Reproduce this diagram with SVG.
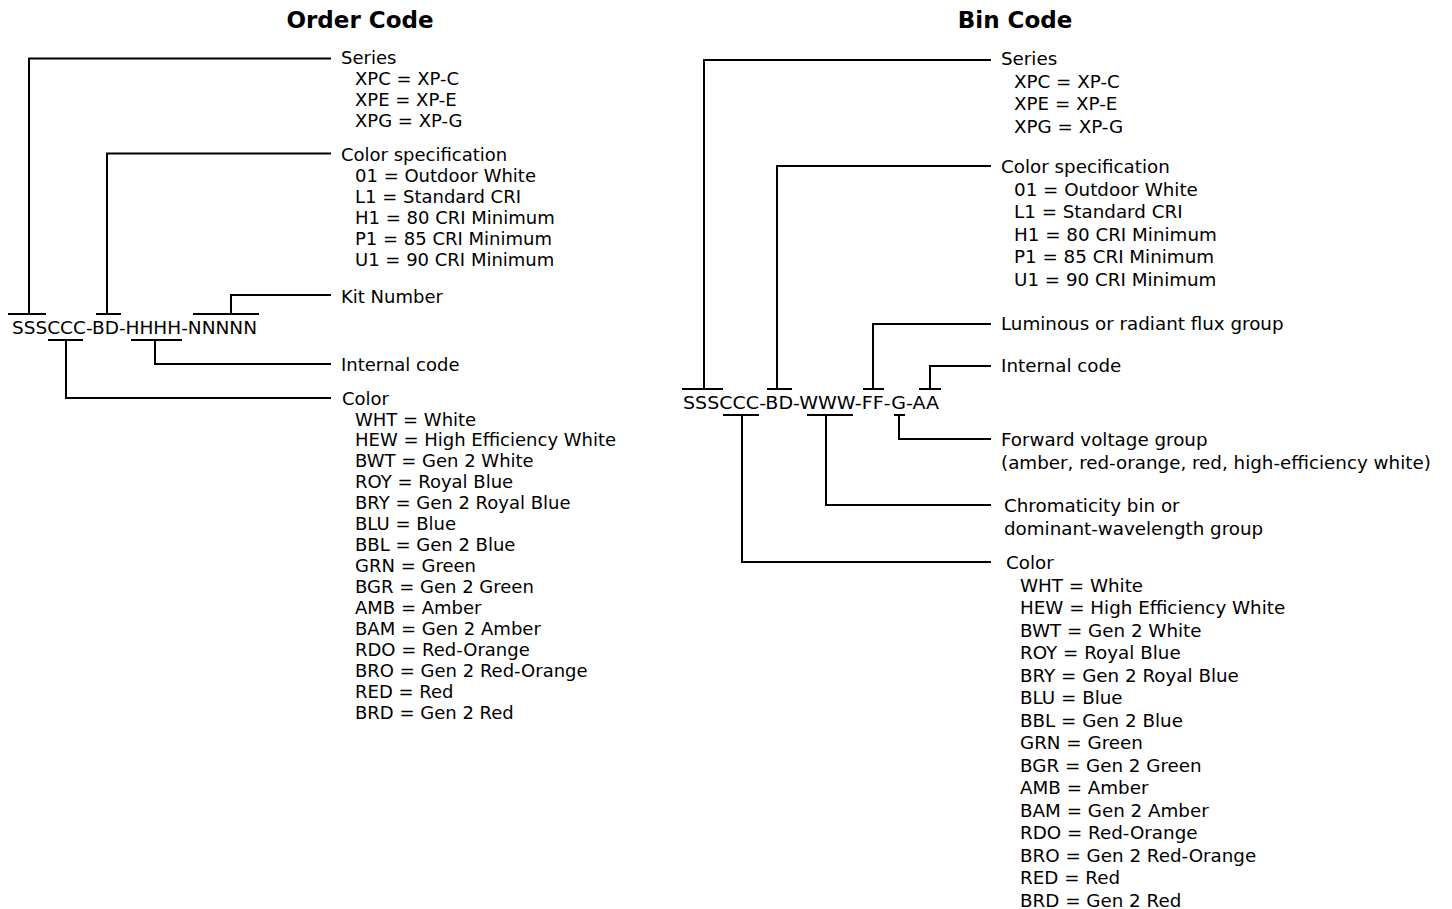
<svg xmlns="http://www.w3.org/2000/svg" width="1452" height="909" viewBox="0 0 1452 909">
<style>
text{font-family:"DejaVu Sans","Verdana",sans-serif;font-size:18px;fill:#000}
.r text{font-size:18.3px}
.title{font-weight:bold;font-size:23px;text-anchor:middle}
.ln{fill:none;stroke:#000;stroke-width:2}
</style>
<rect width="1452" height="909" fill="#fff"/>
<g id="order-title"><text class="title" x="360" y="28">Order Code</text></g>
<g id="bin-title"><text class="title" x="1015" y="28">Bin Code</text></g>

<g id="order-code"><text x="12" y="334" textLength="245" lengthAdjust="spacingAndGlyphs">SSSCCC-BD-HHHH-NNNNN</text></g>
<g id="bin-code"><text x="683" y="409" textLength="256" lengthAdjust="spacingAndGlyphs">SSSCCC-BD-WWW-FF-G-AA</text></g>

<g id="connectors" class="ln">
<path class="ln" d="M8 314H46M29 314V58.5H331"/>
<path class="ln" d="M96 314H121M107 314V153.5H331"/>
<path class="ln" d="M193 314H259M231 314V295H331"/>
<path class="ln" d="M48 340H83M66 340V398H331"/>
<path class="ln" d="M131 340H182M155 340V364H331"/>

<path class="ln" d="M682 389H723M704 389V60H991"/>
<path class="ln" d="M767 389H792M777 389V166H991"/>
<path class="ln" d="M863 389H884M873 389V324H991"/>
<path class="ln" d="M919 389H941M930 389V366H991"/>
<path class="ln" d="M723 415H759M742 415V562H991"/>
<path class="ln" d="M807 415H853M826 415V505H991"/>
<path class="ln" d="M894 415H905M899 415V439H991"/>
</g>

<g id="order-series">
<text x="341" y="64">Series</text>
<text x="355" y="85">XPC = XP-C</text>
<text x="355" y="106">XPE = XP-E</text>
<text x="355" y="127">XPG = XP-G</text>
</g>
<g id="order-colorspec">
<text x="341" y="161">Color specification</text>
<text x="355" y="182">01 = Outdoor White</text>
<text x="355" y="203">L1 = Standard CRI</text>
<text x="355" y="224">H1 = 80 CRI Minimum</text>
<text x="355" y="245">P1 = 85 CRI Minimum</text>
<text x="355" y="266">U1 = 90 CRI Minimum</text>
</g>
<g id="order-kit"><text x="341" y="303">Kit Number</text></g>
<g id="order-internal"><text x="341" y="371">Internal code</text></g>
<g id="order-color">
<text x="342" y="405">Color</text>
<text x="355" y="425.5">WHT = White</text>
<text x="355" y="446.4">HEW = High Efficiency White</text>
<text x="355" y="467.4">BWT = Gen 2 White</text>
<text x="355" y="488.3">ROY = Royal Blue</text>
<text x="355" y="509.2">BRY = Gen 2 Royal Blue</text>
<text x="355" y="530.1">BLU = Blue</text>
<text x="355" y="551.1">BBL = Gen 2 Blue</text>
<text x="355" y="572">GRN = Green</text>
<text x="355" y="592.9">BGR = Gen 2 Green</text>
<text x="355" y="613.9">AMB = Amber</text>
<text x="355" y="634.8">BAM = Gen 2 Amber</text>
<text x="355" y="655.7">RDO = Red-Orange</text>
<text x="355" y="676.7">BRO = Gen 2 Red-Orange</text>
<text x="355" y="697.6">RED = Red</text>
<text x="355" y="718.5">BRD = Gen 2 Red</text>
</g>

<g id="bin-series" class="r">
<text x="1001" y="65">Series</text>
<text x="1014" y="87.5">XPC = XP-C</text>
<text x="1014" y="110">XPE = XP-E</text>
<text x="1014" y="132.5">XPG = XP-G</text>
</g>
<g id="bin-colorspec" class="r">
<text x="1001" y="173">Color specification</text>
<text x="1014" y="195.5">01 = Outdoor White</text>
<text x="1014" y="218">L1 = Standard CRI</text>
<text x="1014" y="240.5">H1 = 80 CRI Minimum</text>
<text x="1014" y="263">P1 = 85 CRI Minimum</text>
<text x="1014" y="285.5">U1 = 90 CRI Minimum</text>
</g>
<g id="bin-flux" class="r"><text x="1001" y="330">Luminous or radiant flux group</text></g>
<g id="bin-internal" class="r"><text x="1001" y="372">Internal code</text></g>
<g id="bin-voltage" class="r">
<text x="1001" y="446">Forward voltage group</text>
<text x="1001" y="468.5">(amber, red-orange, red, high-efficiency white)</text>
</g>
<g id="bin-chroma" class="r">
<text x="1004" y="512">Chromaticity bin or</text>
<text x="1004" y="534.5">dominant-wavelength group</text>
</g>
<g id="bin-color" class="r">
<text x="1006" y="569">Color</text>
<text x="1020" y="591.5">WHT = White</text>
<text x="1020" y="614">HEW = High Efficiency White</text>
<text x="1020" y="636.5">BWT = Gen 2 White</text>
<text x="1020" y="659">ROY = Royal Blue</text>
<text x="1020" y="681.5">BRY = Gen 2 Royal Blue</text>
<text x="1020" y="704">BLU = Blue</text>
<text x="1020" y="726.5">BBL = Gen 2 Blue</text>
<text x="1020" y="749">GRN = Green</text>
<text x="1020" y="771.5">BGR = Gen 2 Green</text>
<text x="1020" y="794">AMB = Amber</text>
<text x="1020" y="816.5">BAM = Gen 2 Amber</text>
<text x="1020" y="839">RDO = Red-Orange</text>
<text x="1020" y="861.5">BRO = Gen 2 Red-Orange</text>
<text x="1020" y="884">RED = Red</text>
<text x="1020" y="906.5">BRD = Gen 2 Red</text>
</g>
</svg>
